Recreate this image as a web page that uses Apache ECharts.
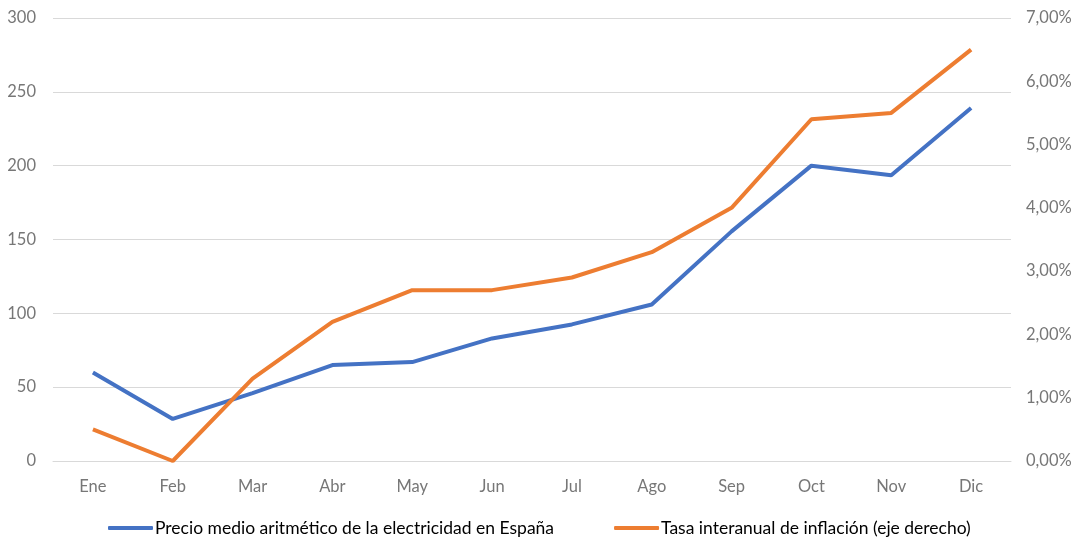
<!DOCTYPE html>
<html><head><meta charset="utf-8">
<script src="https://cdn.jsdelivr.net/npm/echarts@6/dist/echarts.min.js"></script>
<style>html,body{margin:0;padding:0;background:#fff}#c{width:1077px;height:546px}</style>
</head><body><div id="c"></div>
<script>
const months = ['Ene','Feb','Mar','Abr','May','Jun','Jul','Ago','Sep','Oct','Nov','Dic'];
const precio = [60, 28.5, 46, 65, 67, 83, 92.5, 106, 155.5, 200, 193.5, 239];
const inflacion = [0.5, 0.0, 1.3, 2.2, 2.7, 2.7, 2.9, 3.3, 4.0, 5.4, 5.5, 6.5];
const seriesNames = ['Precio medio aritmético de la electricidad en España', 'Tasa interanual de inflación (eje derecho)'];
const FONT = 'Lato, "Open Sans", sans-serif';
const chart = echarts.init(document.getElementById('c'));
chart.setOption({
  animation: false,
  grid: {left: 53, right: 66, top: 18, bottom: 85},
  legend: {
    bottom: 4, left: 103, itemWidth: 45, itemHeight: 4, itemGap: 60,
    icon: 'roundRect',
    textStyle: {fontFamily: FONT, fontSize: 17.5, color: '#000', padding: [0,0,0,-3]},
    data: seriesNames
  },
  xAxis: {
    type: 'category', data: months, boundaryGap: true,
    axisLine: {lineStyle: {color: '#d9d9d9'}}, axisTick: {show: false},
    axisLabel: {color: '#777', fontFamily: FONT, fontSize: 16.5, margin: 17}
  },
  yAxis: [{
    type: 'value', min: 0, max: 300, interval: 50,
    axisLine: {show: false}, axisTick: {show: false},
    splitLine: {lineStyle: {color: '#d9d9d9'}},
    axisLabel: {color: '#777', fontFamily: FONT, fontSize: 16.5, margin: 17}
  },{
    type: 'value', min: 0, max: 7, interval: 1,
    axisLine: {show: false}, axisTick: {show: false}, splitLine: {show: false},
    axisLabel: {color: '#777', fontFamily: FONT, fontSize: 16.5, margin: 15,
      formatter: v => v.toFixed(2).replace('.', ',') + '%'}
  }],
  series: [{
    name: seriesNames[0], type: 'line', data: precio, yAxisIndex: 0,
    symbol: 'none', lineStyle: {color: '#4472C4', width: 4}, itemStyle: {color: '#4472C4'}
  },{
    name: seriesNames[1], type: 'line', data: inflacion, yAxisIndex: 1,
    symbol: 'none', lineStyle: {color: '#ED7D31', width: 4}, itemStyle: {color: '#ED7D31'}
  }]
});
</script></body></html>
